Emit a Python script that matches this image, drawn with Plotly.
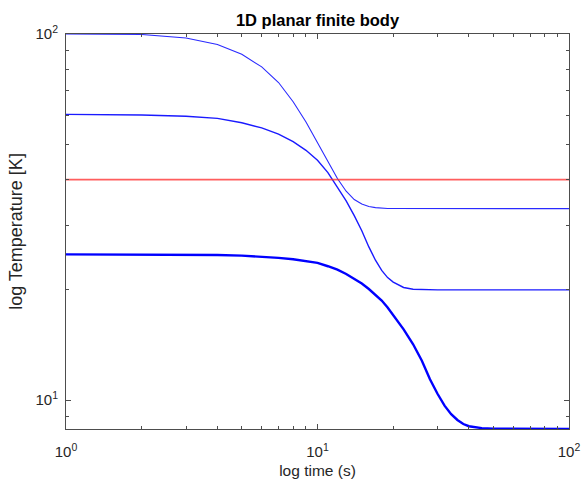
import plotly.graph_objects as go

# time samples (s)
time_s = [1, 2, 3, 4, 5, 6, 7, 8, 9, 10, 11, 12, 13, 14, 15, 16, 17, 18, 19, 20,
          22, 24, 26, 28, 30, 32, 34, 36, 38, 40, 45, 50, 60, 70, 80, 90, 100]

# temperatures (K)
temp_high = [100.0, 99.7, 97.5, 93.6, 88.0, 81.3, 73.7, 65.3, 57.5, 50.5,
             44.6, 40.3, 37.2, 35.3, 34.3, 33.8, 33.55, 33.42, 33.37, 33.35,
             33.34, 33.33, 33.33, 33.33, 33.33, 33.33, 33.33, 33.33, 33.33, 33.33,
             33.33, 33.33, 33.33, 33.33, 33.33, 33.33, 33.33]
temp_mid = [60.3, 60.1, 59.6, 58.8, 57.2, 55.4, 53.3, 50.8, 48.1, 45.2,
            41.8, 38.2, 35.0, 31.9, 29.0, 26.2, 24.1, 22.6, 21.6, 21.0,
            20.3, 20.08, 20.02, 20.0, 20.0, 20.0, 20.0, 20.0, 20.0, 20.0,
            20.0, 20.0, 20.0, 20.0, 20.0, 20.0, 20.0]
temp_low = [25.0, 25.0, 24.95, 24.9, 24.8, 24.65, 24.45, 24.25, 24.0, 23.7,
            23.2, 22.7, 22.1, 21.4, 20.8, 20.1, 19.4, 18.7, 17.9, 17.1,
            15.6, 14.2, 12.8, 11.4, 10.4, 9.65, 9.15, 8.82, 8.6, 8.48,
            8.38, 8.35, 8.34, 8.333, 8.333, 8.333, 8.333]
temp_ref = [40.0, 40.0]
ref_time = [1, 100]

x_major = [1, 10, 100]
x_major_text = ["10<sup>0</sup>", "10<sup>1</sup>", "10<sup>2</sup>"]
x_minor = [2, 3, 4, 5, 6, 7, 8, 9, 20, 30, 40, 50, 60, 70, 80, 90]
y_major = [10, 100]
y_major_text = ["10<sup>1</sup>", "10<sup>2</sup>"]
y_minor = [9, 20, 30, 40, 50, 60, 70, 80, 90]

fig = go.Figure()
fig.add_trace(go.Scatter(x=time_s, y=temp_high, mode="lines",
                         line=dict(color="#2a2aff", width=1.1), showlegend=False))
fig.add_trace(go.Scatter(x=time_s, y=temp_mid, mode="lines",
                         line=dict(color="#1a1aff", width=1.4), showlegend=False))
fig.add_trace(go.Scatter(x=time_s, y=temp_low, mode="lines",
                         line=dict(color="#0000FF", width=2.4), showlegend=False))
fig.add_trace(go.Scatter(x=ref_time, y=temp_ref, mode="lines",
                         line=dict(color="rgba(255,40,40,0.75)", width=1.6), showlegend=False))

axis_color = "#4d4d4d"
fig.update_layout(
    width=581, height=484,
    margin=dict(l=66, r=12, t=34, b=55),
    paper_bgcolor="white", plot_bgcolor="white",
    font=dict(family="Liberation Sans, Arial, sans-serif", size=14, color="#262626"),
    title=dict(text="<b>1D planar finite body</b>", x=0.5, xref="paper", xanchor="center",
               y=1 - 20 / 484, yref="container", yanchor="middle",
               font=dict(size=16.5, color="#000000")),
)
fig.update_xaxes(
    type="log", range=[0, 2], automargin=False,
    tickmode="array", tickvals=x_major, ticktext=x_major_text,
    ticks="inside", ticklen=5, tickcolor=axis_color, tickwidth=1,
    ticklabelstandoff=9, ticklabeloverflow="allow",
    minor=dict(tickmode="array", tickvals=x_minor, ticks="inside", ticklen=3,
               tickcolor=axis_color, tickwidth=1, showgrid=False),
    showline=True, linecolor=axis_color, linewidth=1, mirror="ticks",
    showgrid=False, zeroline=False,
    tickfont=dict(size=15, color="#262626"),
    title=dict(text="log time (s)", font=dict(size=15.5, color="#262626"), standoff=6),
)
fig.update_yaxes(
    type="log", range=[0.9208, 2], automargin=False,
    tickmode="array", tickvals=y_major, ticktext=y_major_text,
    ticks="inside", ticklen=5, tickcolor=axis_color, tickwidth=1,
    ticklabelstandoff=4, ticklabeloverflow="allow",
    minor=dict(tickmode="array", tickvals=y_minor, ticks="inside", ticklen=3,
               tickcolor=axis_color, tickwidth=1, showgrid=False),
    showline=True, linecolor=axis_color, linewidth=1, mirror="ticks",
    showgrid=False, zeroline=False,
    tickfont=dict(size=15, color="#262626"),
    title=dict(text="log Temperature [K]", font=dict(size=18, color="#262626"), standoff=8),
)

# remove the default 8px page margin so the figure fills the window exactly
fig.write_html("out.html", config={"displayModeBar": False},
               post_script="document.body.style.margin='0';")
